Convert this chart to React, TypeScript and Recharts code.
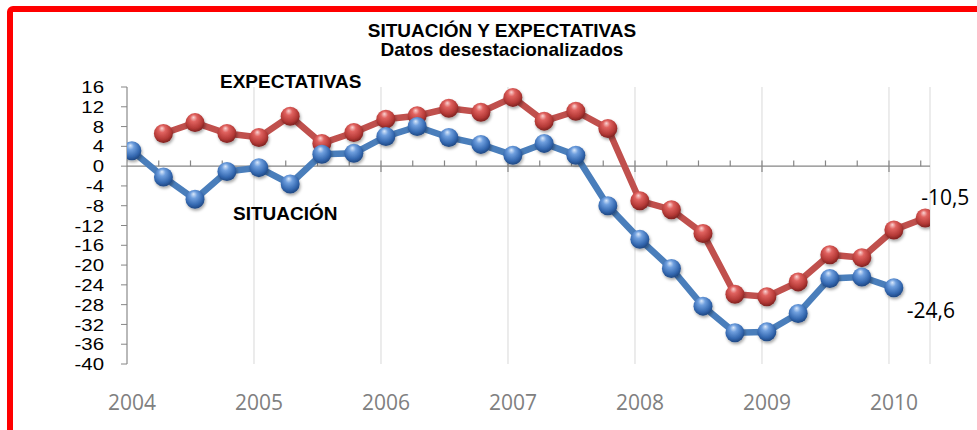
import {
  CartesianGrid,
  Line,
  LineChart,
  ReferenceLine,
  XAxis,
  YAxis,
} from "recharts";

// fechas trimestrales (mitad del primer mes del trimestre)
const fechas = [
  "2004-01-15", "2004-04-15", "2004-07-15", "2004-10-15",
  "2005-01-15", "2005-04-15", "2005-07-15", "2005-10-15",
  "2006-01-15", "2006-04-15", "2006-07-15", "2006-10-15",
  "2007-01-15", "2007-04-15", "2007-07-15", "2007-10-15",
  "2008-01-15", "2008-04-15", "2008-07-15", "2008-10-15",
  "2009-01-15", "2009-04-15", "2009-07-15", "2009-10-15",
  "2010-01-15", "2010-04-15",
];

const situacion = [
  3.1, -2.2, -6.7, -1.1, -0.3, -3.6, 2.4, 2.6, 6.0, 8.0, 5.8, 4.4, 2.2,
  4.6, 2.2, -8.0, -14.8, -20.7, -28.3, -33.7, -33.5, -29.8, -22.7, -22.4,
  -24.6, null,
];

const expectativas = [
  null, 6.6, 8.8, 6.6, 5.8, 10.1, 4.6, 6.8, 9.5, 10.2, 11.7, 10.9, 13.9,
  9.1, 11.1, 7.6, -7.0, -8.8, -13.6, -25.9, -26.4, -23.4, -17.9, -18.5,
  -12.9, -10.5,
];

const years = [2004, 2005, 2006, 2007, 2008, 2009, 2010];
const yTicks = [-40, -36, -32, -28, -24, -20, -16, -12, -8, -4, 0, 4, 8, 12, 16];

const toYear = (f: string) => {
  const [y, m, d] = f.split("-").map(Number);
  const start = Date.UTC(y, 0, 1);
  const end = Date.UTC(y + 1, 0, 1);
  return y + (Date.UTC(y, m - 1, d) - start) / (end - start);
};

const data = fechas.map((f, i) => ({
  t: toYear(f),
  situacion: situacion[i],
  expectativas: expectativas[i],
}));

const xMax = 2010.323;
const quarterTicks = years
  .flatMap((y) => [0, 0.25, 0.5, 0.75].map((q) => y + q))
  .filter((t) => t > 2004 && t <= xMax);

const fmt = (v: number) => v.toFixed(1).replace(".", ",");

const Sphere = (color: string) => (props: any) => {
  const { cx, cy, index, value } = props;
  if (value == null || cx == null || cy == null) return <g key={index} />;
  return (
    <circle
      key={index}
      cx={cx}
      cy={cy}
      r={9.5}
      fill={`url(#sphere-${color})`}
      filter="url(#sphere-shadow)"
    />
  );
};

const lastLabel = (last: number, dx: number, dy: number) => (props: any) => {
  const { x, y, index, value } = props;
  if (index !== last || value == null) return <g key={index} />;
  return (
    <text
      key={index}
      x={x + dx}
      y={y + dy}
      fontFamily="Open Sans"
      fontSize={21}
      fill="#000"
      textAnchor="start"
    >
      {fmt(value)}
    </text>
  );
};

// etiquetas del eje Y algo ensanchadas, como en el original
const YTick = (props: any) => {
  const { x, y, payload } = props;
  return (
    <text
      transform={`translate(${x},${y}) scale(1.2,1)`}
      textAnchor="end"
      dy="0.36em"
      fontFamily="Liberation Sans, Arial, sans-serif"
      fontSize={17}
      fill="#000"
    >
      {payload.value}
    </text>
  );
};

const bold = { fontFamily: "Liberation Sans, Arial, sans-serif", fontWeight: 700 };

export default function App() {
  return (
    <div
      style={{
        position: "absolute",
        left: 0,
        top: 0,
        width: 977,
        height: 430,
        overflow: "hidden",
        background: "#fff",
      }}
    >
      <svg width={0} height={0} style={{ position: "absolute" }}>
        <defs>
          <radialGradient id="sphere-blue" cx="45%" cy="38%" r="62%" fx="42%" fy="22%">
            <stop offset="0%" stopColor="#dbe9fb" />
            <stop offset="30%" stopColor="#6f9fde" />
            <stop offset="75%" stopColor="#3468b0" />
            <stop offset="100%" stopColor="#1f4782" />
          </radialGradient>
          <radialGradient id="sphere-red" cx="45%" cy="38%" r="62%" fx="42%" fy="22%">
            <stop offset="0%" stopColor="#fad4d3" />
            <stop offset="30%" stopColor="#e0625f" />
            <stop offset="75%" stopColor="#b43936" />
            <stop offset="100%" stopColor="#7e2220" />
          </radialGradient>
          <filter id="sphere-shadow" x="-50%" y="-50%" width="200%" height="200%">
            <feDropShadow dx="1" dy="2" stdDeviation="1.5" floodColor="#000" floodOpacity="0.35" />
          </filter>
        </defs>
      </svg>

      <div
        style={{
          position: "absolute",
          left: 7,
          top: 6,
          width: 1000,
          height: 460,
          border: "6px solid #ff0000",
          borderRadius: 6,
        }}
      />

      <div style={{ position: "absolute", left: 0, top: 0 }}>
        <LineChart
          width={977}
          height={430}
          data={data}
          margin={{ top: 87, right: 47, left: 67, bottom: 26 }}
        >
          <text x={502} y={37} textAnchor="middle" fontSize={19} {...bold}>
            SITUACIÓN Y EXPECTATIVAS
          </text>
          <text x={502} y={56} textAnchor="middle" fontSize={19} {...bold}>
            Datos desestacionalizados
          </text>
          <text x={220} y={88} fontSize={19} {...bold}>
            EXPECTATIVAS
          </text>
          <text x={233} y={220} fontSize={19} {...bold}>
            SITUACIÓN
          </text>

          <CartesianGrid vertical horizontal={false} stroke="#d9d9d9" />
          <XAxis
            type="number"
            dataKey="t"
            domain={[2004, xMax]}
            ticks={years}
            interval={0}
            allowDataOverflow
            axisLine={false}
            tickLine={false}
            height={40}
            tickMargin={25}
            tick={{ fontFamily: "Open Sans", fontSize: 21, fill: "#808080", dx: 5 }}
          />
          <YAxis
            domain={[-40, 16]}
            ticks={yTicks}
            interval={0}
            width={60}
            axisLine={{ stroke: "#868686" }}
            tickLine={{ stroke: "#868686" }}
            tickSize={6}
            tickMargin={17}
            tick={<YTick />}
          />
          <ReferenceLine y={0} stroke="#868686" strokeWidth={1.2} />
          {quarterTicks.map((t) => {
            const major = Number.isInteger(t);
            return (
              <ReferenceLine
                key={t}
                segment={[
                  { x: t, y: major ? -1.2 : 0 },
                  { x: t, y: 1.15 },
                ]}
                stroke="#868686"
                strokeWidth={1.2}
                ifOverflow="visible"
              />
            );
          })}

          <Line
            type="linear"
            dataKey="expectativas"
            stroke="#c0504d"
            strokeWidth={6.5}
            dot={Sphere("red")}
            activeDot={false}
            label={lastLabel(25, -4, -13)}
            isAnimationActive={false}
          />
          <Line
            type="linear"
            dataKey="situacion"
            stroke="#4a7ebb"
            strokeWidth={6.5}
            dot={Sphere("blue")}
            activeDot={false}
            label={lastLabel(24, 13, 30)}
            isAnimationActive={false}
          />
        </LineChart>
      </div>
    </div>
  );
}
